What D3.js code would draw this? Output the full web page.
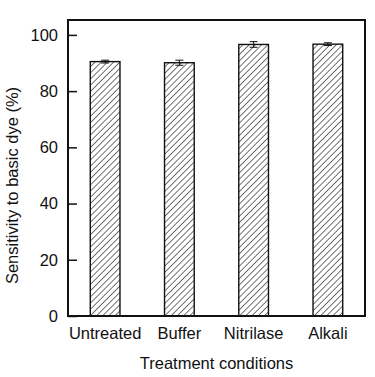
<!DOCTYPE html>
<html>
<head>
<meta charset="utf-8">
<script src="https://cdn.jsdelivr.net/npm/d3@7"></script>
<style>
  body { margin: 0; background: #fff; }
  svg text { font-family: "Liberation Sans", Arial, sans-serif; fill: #111; }
</style>
</head>
<body>
<svg id="chart" width="375" height="377"></svg>
<script>
// treatment groups and sensitivity values
var categories = ["Untreated", "Buffer", "Nitrilase", "Alkali"];
var values = [90.5, 90.1, 96.6, 96.7];
var errors = [0.5, 0.9, 1.0, 0.5];
var yTicks = [0, 20, 40, 60, 80, 100];

var svg = d3.select("#chart");
var m = {left: 68, right: 10, top: 20, bottom: 61},
    w = 375 - m.left - m.right,
    h = 377 - m.top - m.bottom;

// hatch pattern for the bars
var defs = svg.append("defs");
var pat = defs.append("pattern")
    .attr("id", "hatch")
    .attr("patternUnits", "userSpaceOnUse")
    .attr("width", 4.4).attr("height", 4.4)
    .attr("patternTransform", "rotate(45)");
pat.append("rect").attr("width", 4.4).attr("height", 4.4).attr("fill", "#fff");
pat.append("line")
    .attr("x1", 0).attr("y1", 0).attr("x2", 0).attr("y2", 4.4)
    .attr("stroke", "#000").attr("stroke-width", 1.1);

var g = svg.append("g").attr("transform", "translate(" + m.left + "," + m.top + ")");

var x = d3.scaleBand().domain(categories).range([0, w])
    .paddingInner(0.6).paddingOuter(0.3);
var y = d3.scaleLinear().domain([0, 105.3]).range([h, 0]);

// bars
g.selectAll("rect.bar")
  .data(values)
  .enter().append("rect")
    .attr("class", "bar")
    .attr("x", function(d, i) { return x(categories[i]); })
    .attr("y", function(d) { return y(d); })
    .attr("width", x.bandwidth())
    .attr("height", function(d) { return h - y(d); })
    .attr("fill", "url(#hatch)")
    .attr("stroke", "#111")
    .attr("stroke-width", 1.4);

// error bars
var eb = g.selectAll("g.err")
  .data(values)
  .enter().append("g")
    .attr("class", "err")
    .attr("transform", function(d, i) { return "translate(" + (x(categories[i]) + x.bandwidth() / 2) + ",0)"; });
eb.append("line")
    .attr("y1", function(d, i) { return y(d - errors[i]); })
    .attr("y2", function(d, i) { return y(d + errors[i]); })
    .attr("stroke", "#111").attr("stroke-width", 1);
eb.append("line")
    .attr("x1", -4).attr("x2", 4)
    .attr("y1", function(d, i) { return y(d + errors[i]); })
    .attr("y2", function(d, i) { return y(d + errors[i]); })
    .attr("stroke", "#111").attr("stroke-width", 1);
eb.append("line")
    .attr("x1", -4).attr("x2", 4)
    .attr("y1", function(d, i) { return y(d - errors[i]); })
    .attr("y2", function(d, i) { return y(d - errors[i]); })
    .attr("stroke", "#111").attr("stroke-width", 1);

// y axis, ticks pointing inward
var yAxis = g.append("g")
    .call(d3.axisRight(y).tickValues(yTicks).tickSize(9).tickFormat(d3.format("d")));
yAxis.select(".domain").remove();
yAxis.selectAll(".tick line").attr("stroke", "#111").attr("stroke-width", 1.5);
yAxis.selectAll(".tick text")
    .attr("x", -10)
    .attr("text-anchor", "end")
    .style("font-size", "16.5px");

// x axis labels
var xAxis = g.append("g")
    .attr("transform", "translate(0," + h + ")")
    .call(d3.axisBottom(x).tickSize(0).tickPadding(11));
xAxis.select(".domain").remove();
xAxis.selectAll(".tick text").style("font-size", "16.5px");

// frame
g.append("rect")
    .attr("width", w).attr("height", h)
    .attr("fill", "none").attr("stroke", "#111").attr("stroke-width", 2);

// axis titles
svg.append("text")
    .attr("x", m.left + w / 2).attr("y", 369)
    .attr("text-anchor", "middle")
    .style("font-size", "16.5px")
    .text("Treatment conditions");
svg.append("text")
    .attr("transform", "translate(18,185.5) rotate(-90)")
    .attr("text-anchor", "middle")
    .style("font-size", "16.5px")
    .text("Sensitivity to basic dye (%)");
</script>
</body>
</html>
